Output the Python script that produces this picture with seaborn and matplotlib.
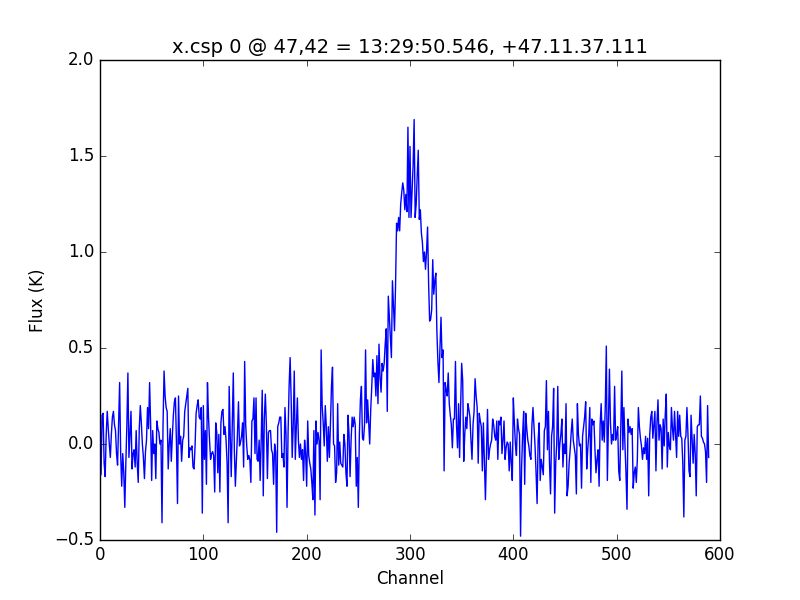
import numpy as np
import matplotlib
matplotlib.use('Agg')
import matplotlib.pyplot as plt
import seaborn as sns

# flux per channel in blocks of 50 channels
flux_000 = [0.16, -0.16, 0.15, 0.16, -0.10, -0.17, 0.05, 0.17, 0.08, 0.00,
            -0.07, 0.05, 0.14, 0.17, 0.10, 0.07, -0.05, -0.11, 0.10, 0.32,
            -0.05, -0.22, -0.05, -0.15, -0.33, -0.10, 0.10, 0.37, -0.07, 0.05,
            0.17, -0.13, -0.05, -0.03, -0.12, 0.07, -0.10, -0.20, 0.08, 0.20,
            0.11, 0.00, -0.07, -0.18, -0.04, 0.02, 0.19, 0.08, 0.32, 0.10]
flux_050 = [-0.19, 0.07, -0.05, 0.00, -0.18, 0.12, 0.08, 0.06, 0.00, 0.02,
            -0.41, 0.10, 0.38, 0.25, 0.19, 0.17, -0.13, 0.00, 0.08, -0.09,
            0.04, 0.15, 0.22, 0.24, 0.00, -0.31, 0.25, 0.00, 0.04, -0.09,
            0.02, 0.04, 0.17, 0.21, 0.25, 0.29, -0.07, -0.02, -0.03, -0.01,
            -0.12, -0.13, -0.01, 0.16, 0.20, 0.23, 0.14, 0.13, 0.19, -0.36]
flux_100 = [0.20, -0.08, 0.07, -0.21, 0.32, 0.14, 0.02, -0.08, -0.05, -0.04,
            -0.06, -0.25, 0.11, 0.06, -0.15, 0.05, -0.25, 0.11, 0.17, 0.18,
            0.05, 0.09, 0.02, -0.10, -0.41, 0.30, 0.05, -0.17, 0.10, 0.37,
            -0.03, -0.22, -0.08, 0.05, 0.22, -0.01, 0.01, 0.04, 0.11, -0.12,
            0.43, 0.10, -0.01, -0.08, -0.06, -0.08, -0.20, 0.12, 0.13, 0.24]
flux_150 = [-0.05, 0.24, -0.08, -0.09, 0.02, -0.19, 0.02, 0.28, -0.27, 0.13,
            0.26, 0.10, -0.18, 0.06, 0.07, 0.07, -0.03, -0.05, -0.21, 0.00,
            -0.04, -0.46, 0.09, 0.11, 0.14, 0.14, -0.07, -0.05, -0.12, 0.19,
            0.05, -0.33, 0.06, 0.30, 0.45, 0.23, -0.07, 0.10, 0.38, -0.08,
            0.09, 0.24, 0.02, -0.07, 0.00, -0.08, -0.03, -0.19, 0.02, -0.05]
flux_200 = [-0.22, 0.12, -0.06, -0.10, -0.13, -0.20, -0.29, 0.07, -0.37, 0.12,
            0.00, 0.06, 0.02, -0.29, 0.49, 0.20, 0.11, -0.01, 0.20, 0.09,
            -0.09, 0.09, -0.07, 0.10, 0.30, 0.40, 0.00, -0.01, -0.20, -0.15,
            0.21, -0.11, 0.01, -0.10, -0.11, -0.12, 0.05, 0.00, -0.15, -0.22,
            0.15, 0.05, -0.17, 0.02, 0.14, 0.09, 0.14, 0.10, -0.22, -0.07]
flux_250 = [-0.33, 0.05, 0.23, 0.30, 0.03, 0.02, 0.10, 0.49, 0.11, 0.23,
            0.12, 0.00, 0.18, 0.30, 0.44, 0.35, 0.37, 0.25, 0.46, 0.21,
            0.52, 0.35, 0.27, 0.42, 0.38, 0.42, 0.52, 0.60, 0.17, 0.77,
            0.66, 0.55, 0.45, 0.85, 0.72, 0.59, 0.82, 1.15, 1.11, 1.18,
            1.11, 1.25, 1.31, 1.36, 1.32, 1.22, 1.30, 1.21, 1.65, 1.18]
flux_300 = [1.55, 1.18, 1.32, 1.45, 1.69, 1.18, 1.25, 1.40, 1.53, 1.17,
            1.22, 1.10, 1.05, 0.95, 1.00, 0.91, 1.00, 1.13, 0.84, 0.64,
            0.65, 0.70, 0.96, 0.78, 0.85, 0.89, 0.59, 0.43, 0.32, 0.50,
            0.66, 0.45, 0.49, -0.14, 0.32, 0.28, 0.25, 0.37, 0.21, 0.15,
            0.10, -0.02, 0.13, 0.13, 0.43, 0.10, -0.02, 0.21, -0.07, 0.20]
flux_350 = [0.42, 0.33, -0.09, 0.05, 0.14, 0.08, 0.21, 0.18, 0.14, 0.02,
            -0.08, 0.10, 0.17, 0.34, 0.25, 0.19, -0.10, 0.16, 0.12, 0.09,
            -0.14, 0.11, -0.08, -0.29, -0.05, 0.18, -0.08, -0.03, 0.00, 0.02,
            0.13, 0.10, 0.04, 0.02, 0.12, -0.08, 0.12, 0.10, 0.14, -0.05,
            0.02, 0.12, -0.08, -0.02, 0.01, 0.00, -0.14, 0.01, -0.10, -0.19]
flux_400 = [0.24, 0.11, 0.00, -0.06, 0.13, 0.08, 0.05, -0.48, -0.12, 0.05,
            0.17, -0.21, 0.16, 0.08, 0.02, -0.01, -0.06, -0.08, 0.10, 0.19,
            0.09, -0.01, -0.15, -0.31, 0.02, 0.11, -0.19, -0.08, -0.12, -0.16,
            0.07, 0.09, 0.33, -0.03, 0.17, -0.10, -0.26, 0.04, 0.09, 0.29,
            -0.36, -0.10, 0.00, 0.30, -0.08, 0.00, 0.05, 0.13, -0.12, 0.00]
flux_450 = [-0.05, 0.21, -0.27, -0.22, -0.10, -0.03, 0.06, 0.13, 0.02, -0.02,
            -0.06, -0.26, 0.21, 0.05, -0.01, 0.00, -0.23, 0.04, 0.09, 0.14,
            0.22, -0.13, -0.03, 0.05, 0.19, -0.20, 0.13, 0.10, 0.12, -0.03,
            -0.15, -0.08, -0.03, -0.22, 0.10, 0.21, 0.02, 0.12, 0.01, 0.20,
            0.51, -0.19, 0.10, 0.39, 0.11, 0.00, 0.05, 0.02, 0.30, 0.02]
flux_500 = [0.05, 0.09, -0.14, -0.19, 0.10, 0.38, -0.03, 0.19, 0.00, -0.15,
            -0.34, 0.13, 0.06, 0.09, 0.05, 0.08, -0.23, -0.15, -0.12, -0.20,
            -0.08, 0.19, 0.09, 0.03, -0.01, -0.08, -0.02, -0.05, 0.04, -0.08,
            0.03, -0.27, 0.05, 0.14, 0.17, 0.03, 0.10, 0.17, -0.14, 0.11,
            0.23, 0.02, 0.10, 0.08, -0.13, 0.13, -0.01, 0.15, 0.26, -0.12]
flux_550 = [0.06, -0.01, -0.03, 0.19, 0.08, 0.02, 0.17, 0.05, -0.07, 0.17,
            0.04, 0.15, 0.04, 0.03, -0.10, -0.38, 0.02, 0.04, 0.19, 0.05,
            -0.14, -0.17, 0.15, 0.02, -0.10, 0.05, -0.05, -0.27, 0.09, 0.10,
            0.10, 0.25, 0.04, 0.03, 0.01, 0.00, -0.04, -0.20, 0.20, -0.07]

title = 'x.csp 0 @ 47,42 = 13:29:50.546, +47.11.37.111'

flux = np.concatenate([flux_000, flux_050, flux_100, flux_150, flux_200, flux_250,
                       flux_300, flux_350, flux_400, flux_450, flux_500, flux_550])
channel = np.arange(len(flux))

plt.style.use('classic')
plt.rcParams['font.family'] = ['DejaVu Sans']

fig = plt.figure(figsize=(8, 6), dpi=100, facecolor='white')
ax = fig.add_axes([0.125, 0.1, 0.775, 0.8])
sns.lineplot(x=channel, y=flux, color='b', linewidth=1, sort=False,
             estimator=None, ax=ax)

ax.set_xlim(0, 600)
ax.set_ylim(-0.5, 2.0)
ax.set_xticks(np.arange(0, 601, 100))
ax.set_yticks(np.arange(-0.5, 2.01, 0.5))
ax.set_title(title, fontsize=14)
ax.set_xlabel('Channel', fontsize=12)
ax.set_ylabel('Flux (K)', fontsize=12)

fig.savefig('out.png', dpi=100, facecolor='white')
